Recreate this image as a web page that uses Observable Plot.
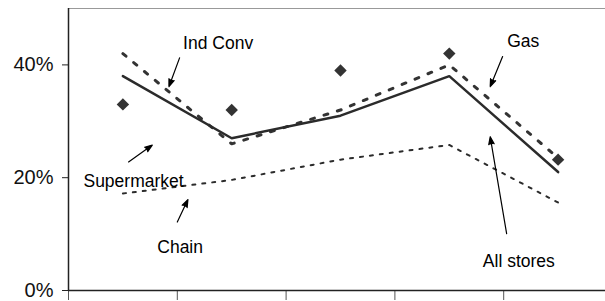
<!DOCTYPE html>
<html>
<head>
<meta charset="utf-8">
<script src="https://cdn.jsdelivr.net/npm/d3@7"></script>
<script src="https://cdn.jsdelivr.net/npm/@observablehq/plot@0.6"></script>
<style>
  html, body { margin: 0; padding: 0; background: #fff; }
  #chart svg { display: block; }
</style>
</head>
<body>
<div id="chart"></div>
<script>
// Five unlabeled periods
const categories = ["1", "2", "3", "4", "5"];
const allStores = [0.38, 0.27, 0.31, 0.38, 0.21];
const gas       = [0.42, 0.26, 0.32, 0.40, 0.235];
const indConv   = [0.33, 0.32, 0.39, 0.42, 0.232];
const chain     = [0.172, 0.196, 0.232, 0.258, 0.156];
const yTicks = [0, 0.2, 0.4];

const rows = (vals) => categories.map((c, i) => ({x: i + 0.5, y: vals[i]}));

// annotation layout (in data coordinates)
const labels = [
  {text: "Ind Conv",    x: 1.375, y: 0.439},
  {text: "Supermarket", x: 0.598, y: 0.194},
  {text: "Chain",       x: 1.026, y: 0.0764},
  {text: "Gas",         x: 4.18,  y: 0.441},
  {text: "All stores",  x: 4.139, y: 0.0516}
];
const arrows = [
  {x1: 1.021, y1: 0.4124, x2: 0.923, y2: 0.3614},
  {x1: 0.552, y1: 0.228,  x2: 0.770, y2: 0.2578},
  {x1: 1.000, y1: 0.1214, x2: 1.0975, y2: 0.1612},
  {x1: 3.99,  y1: 0.4148, x2: 3.876, y2: 0.3614},
  {x1: 4.027, y1: 0.1008, x2: 3.876, y2: 0.2725}
];

const chart = Plot.plot({
  width: 605,
  height: 301,
  marginLeft: 68,
  marginRight: -7,
  marginTop: 8,
  marginBottom: 11,
  style: {fontFamily: "'Liberation Sans', Arial, sans-serif", background: "#fff", overflow: "visible"},
  x: {domain: [0, 5], axis: null},
  y: {domain: [0, 0.5], axis: null},
  marks: [
    Plot.ruleY([0.5], {stroke: "#999", strokeWidth: 1}),
    // y axis ticks + labels
    Plot.axisY(yTicks, {tickSize: 6, tickPadding: 9, tickFormat: d3.format(".0%"), fontSize: 20, stroke: "#222", fill: "#111"}),
    // x ticks
    Plot.axisX(d3.range(0, 6), {tickSize: 10, tickFormat: () => "", stroke: "#555"}),
    Plot.ruleX([0], {stroke: "#222", strokeWidth: 1.5}),
    Plot.ruleY([0], {stroke: "#222", strokeWidth: 1.5}),
    Plot.line(rows(chain), {x: "x", y: "y", stroke: "#2b2b2b", strokeWidth: 2, strokeDasharray: "3,7"}),
    Plot.line(rows(gas), {x: "x", y: "y", stroke: "#333", strokeWidth: 3, strokeDasharray: "4,10"}),
    Plot.line(rows(allStores), {x: "x", y: "y", stroke: "#2b2b2b", strokeWidth: 2.5}),
    Plot.dot(rows(indConv), {x: "x", y: "y", symbol: "diamond2", r: 5.6, fill: "#333", stroke: "none"}),
    Plot.arrow(arrows, {x1: "x1", y1: "y1", x2: "x2", y2: "y2", stroke: "#000", fill: "#000", strokeWidth: 1.2, headLength: 10, headAngle: 40}),
    Plot.text(labels, {x: "x", y: "y", text: "text", fontSize: 17.5, fill: "#000", textAnchor: "middle"})
  ]
});
document.getElementById("chart").appendChild(chart);
</script>
</body>
</html>
